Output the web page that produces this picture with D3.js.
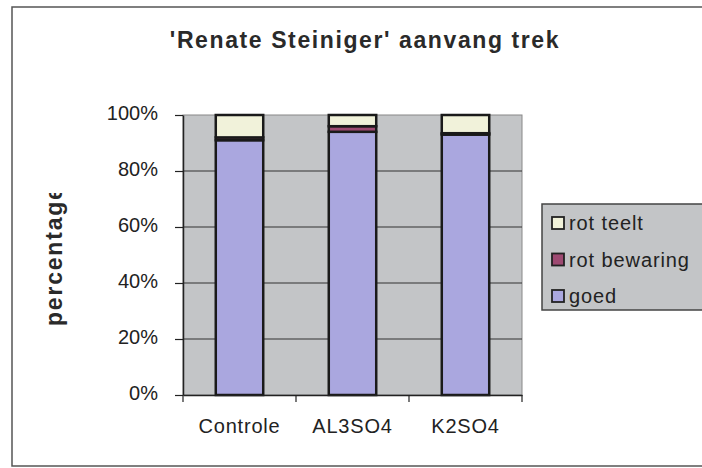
<!DOCTYPE html>
<html><head><meta charset="utf-8">
<script src="https://cdn.jsdelivr.net/npm/d3@7"></script>
<style>body{margin:0;background:#fff}svg{display:block}text{font-family:Arial,"Liberation Sans",sans-serif}</style>
</head><body><svg id="c" width="702" height="468"></svg>
<script>
const categories = ["Controle","AL3SO4","K2SO4"];
const goed = [91, 94, 93];
const rotBewaring = [1, 2, 0.5];
const rotTeelt = [8, 4, 6.5];
const seriesNames = ["goed","rot bewaring","rot teelt"];
const seriesColors = ["#aaa7df","#9e4a72","#f1f2da"];
const yTicks = [0,20,40,60,80,100];

const svg = d3.select("#c");
svg.append("rect").attr("x",12).attr("y",7).attr("width",720).attr("height",459)
  .attr("fill","#fff").attr("stroke","#555").attr("stroke-width",1.5);

const L=183,R=522,T=115,B=395;
const x = d3.scaleBand().domain(categories).range([L,R]);
const y = d3.scaleLinear().domain([0,100]).range([B,T]);

svg.append("rect").attr("x",L).attr("y",T).attr("width",R-L).attr("height",B-T)
  .attr("fill","#c3c5c7").attr("stroke","#888").attr("stroke-width",1);

svg.append("g").selectAll("line").data(yTicks.slice(1,-1)).join("line")
  .attr("x1",L).attr("x2",R).attr("y1",d=>y(d)).attr("y2",d=>y(d))
  .attr("stroke","#333").attr("stroke-width",1.2);

const rows = categories.map((c,i)=>({cat:c, goed:goed[i], "rot bewaring":rotBewaring[i], "rot teelt":rotTeelt[i]}));
const stack = d3.stack().keys(seriesNames)(rows);
const bw = x.bandwidth()*0.42;
stack.forEach((s,si)=>{
  svg.append("g").selectAll("rect").data(s).join("rect")
    .attr("x",d=>x(d.data.cat)+(x.bandwidth()-bw)/2)
    .attr("width",bw)
    .attr("y",d=>y(d[1]))
    .attr("height",d=>y(d[0])-y(d[1]))
    .attr("fill",seriesColors[si])
    .attr("stroke","#1a1a1a").attr("stroke-width",2.5);
});

const ya = svg.append("g").attr("transform",`translate(${L},0)`)
  .call(d3.axisLeft(y).tickValues(yTicks).tickFormat(d=>d+"%").tickSize(8).tickSizeOuter(0));
ya.select(".domain").attr("stroke","#222").attr("stroke-width",1.5);
ya.selectAll("line").attr("stroke","#222").attr("stroke-width",1.2);
ya.selectAll("text").attr("font-size",20).attr("fill","#222").attr("x",-25).attr("dy","0.2em");

const xa = svg.append("g").attr("transform",`translate(0,${B})`)
  .call(d3.axisBottom(x).tickSize(0).tickSizeOuter(0));
xa.select(".domain").attr("stroke","#222").attr("stroke-width",1.5);
xa.selectAll("text").attr("font-size",20).attr("letter-spacing",0.8).attr("fill","#222").attr("y",24);
const bnd = [L, ...categories.map(c=>x(c)+x.bandwidth())];
svg.append("g").selectAll("line").data(bnd).join("line")
  .attr("x1",d=>d).attr("x2",d=>d).attr("y1",B).attr("y2",B+7)
  .attr("stroke","#222").attr("stroke-width",1.2);

svg.append("text").attr("x",365).attr("y",48).attr("text-anchor","middle")
  .attr("font-size",23).attr("letter-spacing",1.6).attr("font-weight","bold").attr("fill","#2a2a2a")
  .text("'Renate Steiniger' aanvang trek");

svg.append("clipPath").attr("id","yc").append("rect").attr("x",0).attr("y",193).attr("width",120).attr("height",200);
svg.append("g").attr("clip-path","url(#yc)").append("text")
  .attr("transform","translate(62,326) rotate(-90)").attr("text-anchor","start")
  .attr("font-size",23).attr("letter-spacing",1.8).attr("font-weight","bold").attr("fill","#2a2a2a").text("percentage");

const lg = svg.append("g");
lg.append("rect").attr("x",542).attr("y",204).attr("width",170).attr("height",106)
  .attr("fill","#c3c5c7").attr("stroke","#444").attr("stroke-width",1.5);
const legendItems = seriesNames.map((n,i)=>({n,c:seriesColors[i]})).reverse();
legendItems.forEach((d,i)=>{
  const yy = 223 + i*36.5;
  lg.append("rect").attr("x",552).attr("y",yy-6).attr("width",12).attr("height",12)
    .attr("fill",d.c).attr("stroke","#222").attr("stroke-width",1.8);
  lg.append("text").attr("x",569).attr("y",yy+7).attr("font-size",20).attr("letter-spacing",0.9).attr("fill","#222").text(d.n);
});
</script></body></html>
